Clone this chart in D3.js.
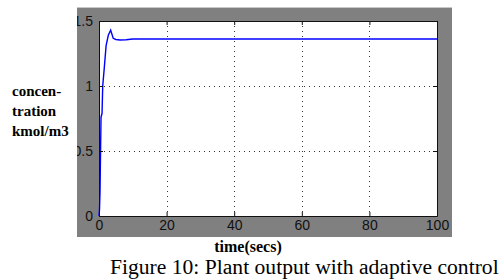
<!DOCTYPE html>
<html>
<head>
<meta charset="utf-8">
<script src="https://cdn.jsdelivr.net/npm/d3@7"></script>
<style>
  body { margin: 0; background: #fff; }
  svg { display: block; }
</style>
</head>
<body>
<svg id="chart" width="504" height="279"></svg>
<script>
// plant output
const timeVals = [0, 0.15, 0.3, 0.4, 0.6, 0.9, 1.1, 1.5, 2.1, 2.75, 3.45, 4.2, 5, 6.2, 8, 10, 100];
const concVals = [0, 0.05, 0.18, 0.38, 0.76, 0.79, 1.0, 1.12, 1.31, 1.39, 1.43, 1.367, 1.358, 1.354, 1.356, 1.362, 1.362];

const xTicks = [0, 20, 40, 60, 80, 100];
const yTicks = [0, 0.5, 1, 1.5];
const yLabelLines = ["concen-", "tration", "kmol/m3"];
const xLabel = "time(secs)";
const caption = "Figure 10: Plant output with adaptive control";

const svg = d3.select("#chart");

// figure window (grey)
const fig = { x0: 77, y0: 7, x1: 452, y1: 237 };
const plot = { left: 99, right: 437, top: 21, bottom: 216 };

svg.append("rect")
  .attr("x", fig.x0).attr("y", fig.y0)
  .attr("width", fig.x1 - fig.x0).attr("height", fig.y1 - fig.y0)
  .attr("fill", "#808080");
svg.append("line")
  .attr("x1", fig.x0).attr("x2", fig.x1)
  .attr("y1", fig.y0 + 0.5).attr("y2", fig.y0 + 0.5)
  .attr("stroke", "#c8c8c8");

svg.append("clipPath").attr("id", "figclip")
  .append("rect")
  .attr("x", fig.x0).attr("y", fig.y0)
  .attr("width", fig.x1 - fig.x0).attr("height", fig.y1 - fig.y0);

svg.append("rect")
  .attr("x", plot.left).attr("y", plot.top)
  .attr("width", plot.right - plot.left).attr("height", plot.bottom - plot.top)
  .attr("fill", "#fff");

const x = d3.scaleLinear().domain([0, 100]).range([plot.left, plot.right]);
const y = d3.scaleLinear().domain([0, 1.5]).range([plot.bottom, plot.top]);

// dotted grid
const grid = svg.append("g")
  .attr("stroke", "#333")
  .attr("stroke-width", 1)
  .attr("stroke-dasharray", "1,4");
grid.selectAll(".gx")
  .data(xTicks.slice(1, -1))
  .enter().append("line")
  .attr("x1", d => Math.round(x(d)) + 0.5).attr("x2", d => Math.round(x(d)) + 0.5)
  .attr("y1", plot.top).attr("y2", plot.bottom);
grid.selectAll(".gy")
  .data(yTicks.slice(1, -1))
  .enter().append("line")
  .attr("y1", d => Math.round(y(d)) + 0.5).attr("y2", d => Math.round(y(d)) + 0.5)
  .attr("x1", plot.left).attr("x2", plot.right);

// curve
const line = d3.line()
  .x((d, i) => x(timeVals[i]))
  .y(d => y(d));

svg.append("path")
  .datum(concVals)
  .attr("d", line)
  .attr("fill", "none")
  .attr("stroke", "#0000ff")
  .attr("stroke-width", 1.4);

// axes, inward ticks like matlab; labels clipped to the grey window
const tickFont = "'Liberation Sans', Arial, sans-serif";
const axesG = svg.append("g").attr("clip-path", "url(#figclip)");

const axB = axesG.append("g")
  .attr("transform", `translate(0,${plot.bottom})`)
  .call(d3.axisBottom(x).tickValues(xTicks).tickSize(-4).tickPadding(4).tickSizeOuter(0));
const axL = axesG.append("g")
  .attr("transform", `translate(${plot.left},0)`)
  .call(d3.axisLeft(y).tickValues(yTicks).tickFormat(d => String(d))
    .tickSize(-4).tickPadding(6).tickSizeOuter(0));
const axT = axesG.append("g")
  .attr("transform", `translate(0,${plot.top})`)
  .call(d3.axisTop(x).tickValues(xTicks).tickSize(-4).tickFormat("").tickSizeOuter(0));
const axR = axesG.append("g")
  .attr("transform", `translate(${plot.right},0)`)
  .call(d3.axisRight(y).tickValues(yTicks).tickSize(-4).tickFormat("").tickSizeOuter(0));

[axB, axL, axT, axR].forEach(a => {
  a.selectAll("path, line").attr("stroke", "#111");
  a.selectAll("text")
    .attr("fill", "#111")
    .style("font-family", tickFont)
    .style("font-size", "14px");
});

// y label, three lines
svg.append("text")
  .attr("x", 12)
  .attr("y", 96)
  .style("font-family", "'Liberation Serif', 'Times New Roman', serif")
  .style("font-weight", "bold")
  .style("font-size", "15px")
  .selectAll("tspan")
  .data(yLabelLines)
  .enter().append("tspan")
  .attr("x", 12)
  .attr("dy", (d, i) => i === 0 ? 0 : 20)
  .text(d => d);

svg.append("text")
  .attr("x", 248)
  .attr("y", 252)
  .attr("text-anchor", "middle")
  .style("font-family", "'Liberation Serif', 'Times New Roman', serif")
  .style("font-weight", "bold")
  .style("font-size", "16px")
  .text(xLabel);

svg.append("text")
  .attr("x", 110)
  .attr("y", 273.5)
  .style("font-family", "'Liberation Serif', 'Times New Roman', serif")
  .style("font-size", "21.6px")
  .text(caption);
</script>
</body>
</html>
